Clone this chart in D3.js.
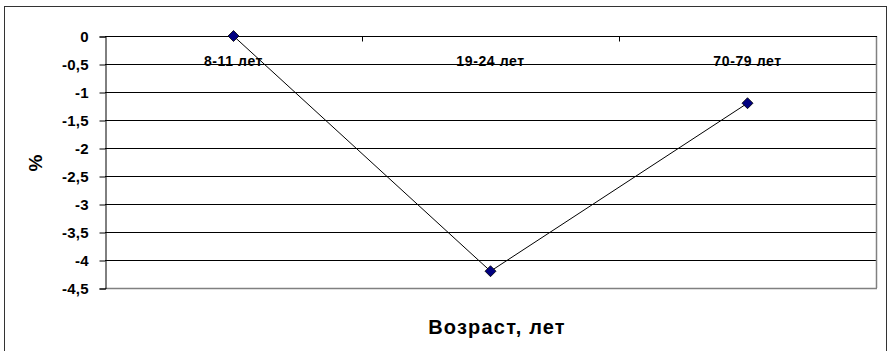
<!DOCTYPE html>
<html>
<head>
<meta charset="utf-8">
<script src="https://cdn.jsdelivr.net/npm/d3@7"></script>
<style>
  html, body { margin: 0; padding: 0; background: #fff; }
  svg { display: block; }
  text { font-family: Arial, "Liberation Sans", sans-serif; font-weight: bold; fill: #000; }
</style>
</head>
<body>
<svg id="chart" width="888" height="351"></svg>
<script>
// Age groups and change in percent
const categories = ["8-11 лет", "19-24 лет", "70-79 лет"];
const values = [0, -4.2, -1.2];
const yTicks = [0, -0.5, -1, -1.5, -2, -2.5, -3, -3.5, -4, -4.5];
const yTitle = "%";
const xTitle = "Возраст, лет";

const svg = d3.select("#chart");
const plot = { left: 105, top: 36, right: 876, bottom: 288 };

// Outer chart frame
svg.append("rect")
  .attr("x", 4.5).attr("y", 6.5)
  .attr("width", 882).attr("height", 350)
  .attr("fill", "#fff").attr("stroke", "#333").attr("stroke-width", 1);

const x = d3.scaleBand().domain(categories).range([plot.left, plot.right]);
const y = d3.scaleLinear().domain([-4.5, 0]).range([plot.bottom, plot.top]);

const fmt = v => String(v).replace(".", ",");

// Horizontal gridlines
svg.append("g").selectAll("line").data(yTicks.filter(v => v !== 0 && v !== -4.5)).join("line")
  .attr("x1", plot.left).attr("x2", plot.right)
  .attr("y1", d => Math.round(y(d)) + 0.5).attr("y2", d => Math.round(y(d)) + 0.5)
  .attr("stroke", "#000").attr("stroke-width", 1);

// Plot area border (gray right/bottom)
svg.append("line")
  .attr("x1", plot.left).attr("x2", plot.right + 1)
  .attr("y1", plot.bottom + 0.5).attr("y2", plot.bottom + 0.5)
  .attr("stroke", "#808080").attr("stroke-width", 1.5);
svg.append("line")
  .attr("x1", plot.right + 0.5).attr("x2", plot.right + 0.5)
  .attr("y1", plot.top).attr("y2", plot.bottom)
  .attr("stroke", "#808080").attr("stroke-width", 1.5);

// Y axis: line and ticks from d3, labels drawn separately in bold
const yAxis = d3.axisLeft(y).tickValues(yTicks).tickFormat("").tickSize(6);
const gy = svg.append("g").attr("transform", `translate(${plot.left + 0.5},0.5)`).call(yAxis);
gy.select(".domain").attr("stroke", "#000");
gy.selectAll(".tick line").attr("stroke", "#000");
svg.append("g").selectAll("text").data(yTicks).join("text")
  .attr("x", 89)
  .attr("y", d => y(d) + 5.5)
  .attr("text-anchor", "end")
  .attr("font-size", 15)
  .attr("letter-spacing", "0.3px")
  .text(fmt);

// X axis along the zero line, ticks pointing inward at category boundaries
const gx = svg.append("g").attr("transform", `translate(0,${Math.round(y(0)) + 0.5})`);
gx.append("line").attr("x1", plot.left).attr("x2", plot.right + 1).attr("stroke", "#000");
const bounds = categories.slice(1).map(c => x(c));
gx.selectAll("line.tk").data(bounds).join("line").attr("class", "tk")
  .attr("x1", d => Math.round(d) + 0.5).attr("x2", d => Math.round(d) + 0.5)
  .attr("y1", 0).attr("y2", 5).attr("stroke", "#000");
gx.selectAll("text").data(categories).join("text")
  .attr("x", d => x(d) + x.bandwidth() / 2)
  .attr("y", 29.5)
  .attr("text-anchor", "middle")
  .attr("font-size", 14)
  .attr("letter-spacing", "0.6px")
  .text(d => d);

// Series line and diamond markers
const pts = categories.map((c, i) => [x(c) + x.bandwidth() / 2, y(values[i])]);
svg.append("path")
  .attr("d", d3.line()(pts))
  .attr("fill", "none").attr("stroke", "#000").attr("stroke-width", 1);
svg.append("g").selectAll("path").data(pts).join("path")
  .attr("transform", d => `translate(${d[0]},${d[1]})`)
  .attr("d", "M0,-5.5L5.5,0L0,5.5L-5.5,0Z")
  .attr("fill", "#000080").attr("stroke", "#000").attr("stroke-width", 0.8);

// Axis titles
svg.append("text")
  .attr("transform", `translate(42,163) rotate(-90)`)
  .attr("text-anchor", "middle")
  .attr("font-size", 19)
  .text(yTitle);
svg.append("text")
  .attr("x", 497).attr("y", 334)
  .attr("text-anchor", "middle")
  .attr("font-size", 20)
  .attr("letter-spacing", "1.2px")
  .text(xTitle);
</script>
</body>
</html>
